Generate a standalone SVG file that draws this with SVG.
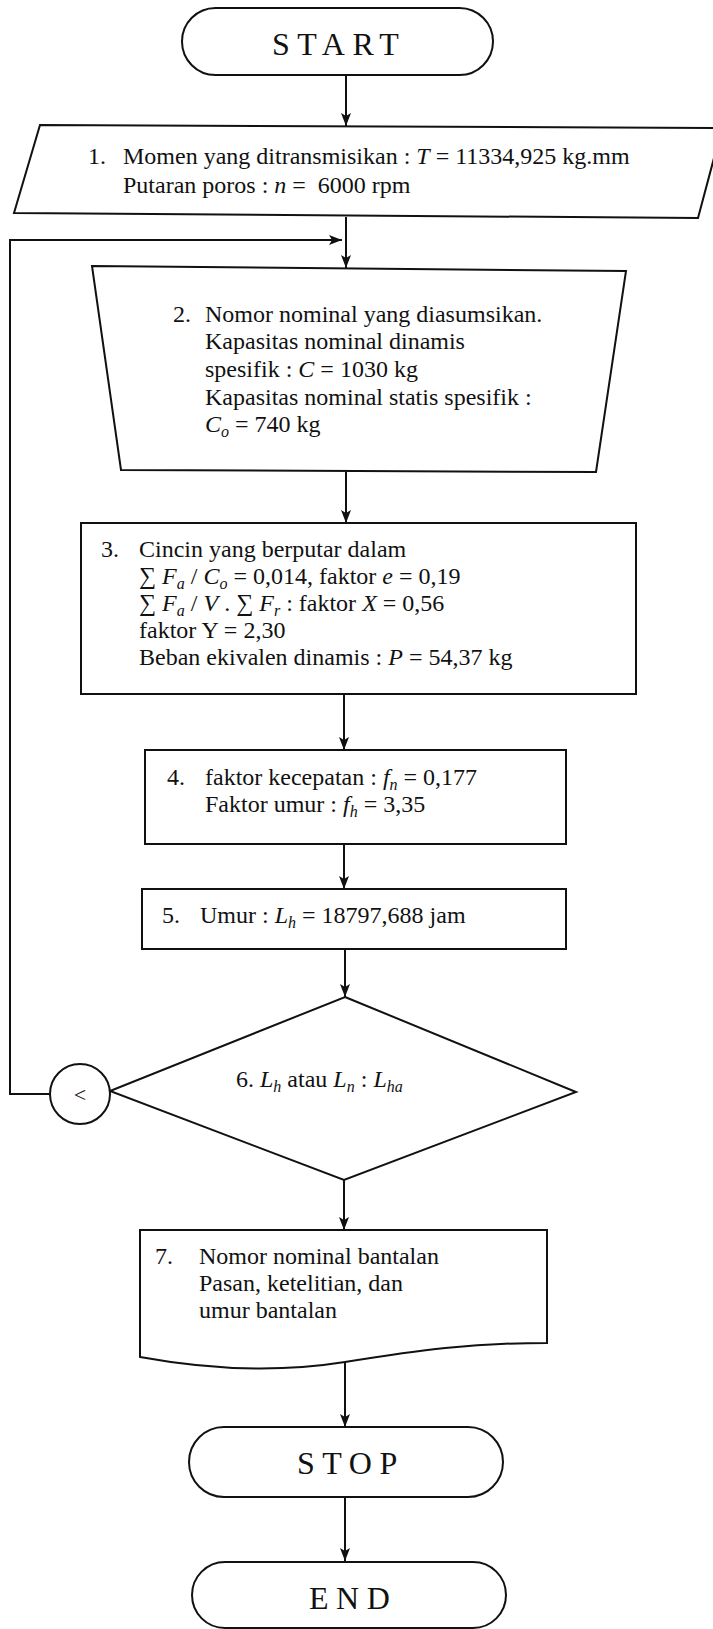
<svg xmlns="http://www.w3.org/2000/svg" width="713" height="1629" viewBox="0 0 713 1629">
<defs>
<marker id="arr" markerUnits="userSpaceOnUse" markerWidth="14" markerHeight="10" refX="13" refY="5" orient="auto">
<path d="M0,0 L13,5 L0,10 L3,5 Z" fill="#111"/>
</marker>
<style>
.s{fill:#fff;stroke:#111;stroke-width:2}
.c{fill:none;stroke:#111;stroke-width:2}
text{font-family:"Liberation Serif","Times New Roman",serif;font-size:24px;fill:#111}
.t{font-size:32px;letter-spacing:7.5px}
.i{font-style:italic}
.sub{font-size:16px;font-style:italic}
</style>
</defs>
<rect width="713" height="1629" fill="#fff"/>

<g id="connectors">
<line class="c" x1="346" y1="75" x2="346" y2="126" marker-end="url(#arr)"/>
<line class="c" x1="346" y1="217" x2="346" y2="268" marker-end="url(#arr)"/>
<line class="c" x1="346" y1="472" x2="346" y2="523" marker-end="url(#arr)"/>
<line class="c" x1="344" y1="694" x2="344" y2="750" marker-end="url(#arr)"/>
<line class="c" x1="344" y1="844" x2="344" y2="889" marker-end="url(#arr)"/>
<line class="c" x1="345" y1="949" x2="345" y2="997" marker-end="url(#arr)"/>
<line class="c" x1="344" y1="1180" x2="344" y2="1230" marker-end="url(#arr)"/>
<line class="c" x1="345" y1="1362" x2="345" y2="1427" marker-end="url(#arr)"/>
<line class="c" x1="345" y1="1497" x2="345" y2="1561" marker-end="url(#arr)"/>
<polyline class="c" points="50,1094 10,1094 10,240 342,240" marker-end="url(#arr)"/>
</g>

<g id="start">
<rect class="s" x="182" y="8" width="311" height="67" rx="33.5"/>
<text class="t" x="272" y="55">START</text>
</g>

<g id="input1">
<polygon class="s" points="40,125 722,128 698,218 14,213"/>
<text x="88" y="164">1.</text>
<text x="123" y="164">Momen yang ditransmisikan : <tspan class="i">T</tspan> = 11334,925 kg.mm</text>
<text x="123" y="193">Putaran poros : <tspan class="i">n</tspan> =&#160; 6000 rpm</text>
</g>

<g id="step2">
<polygon class="s" points="92,266 626,271 596,472 121,470"/>
<text x="173" y="322">2.</text>
<text x="205" y="322">Nomor nominal yang diasumsikan.</text>
<text x="205" y="349">Kapasitas nominal dinamis</text>
<text x="205" y="377">spesifik : <tspan class="i">C</tspan> = 1030 kg</text>
<text x="205" y="405">Kapasitas nominal statis spesifik :</text>
<text x="205" y="432"><tspan class="i">C</tspan><tspan class="sub" dy="5">o</tspan><tspan dy="-5"> = 740 kg</tspan></text>
</g>

<g id="step3">
<rect class="s" x="81" y="523" width="555" height="171"/>
<text x="101" y="557">3.</text>
<text x="139" y="557">Cincin yang berputar dalam</text>
<text x="139" y="584">∑ <tspan class="i">F</tspan><tspan class="sub" dy="5">a</tspan><tspan dy="-5"> / </tspan><tspan class="i">C</tspan><tspan class="sub" dy="5">o</tspan><tspan dy="-5"> = 0,014, faktor </tspan><tspan class="i">e</tspan> = 0,19</text>
<text x="139" y="611">∑ <tspan class="i">F</tspan><tspan class="sub" dy="5">a</tspan><tspan dy="-5"> / </tspan><tspan class="i">V</tspan> . ∑ <tspan class="i">F</tspan><tspan class="sub" dy="5">r</tspan><tspan dy="-5"> : faktor </tspan><tspan class="i">X</tspan> = 0,56</text>
<text x="139" y="638">faktor Y = 2,30</text>
<text x="139" y="665">Beban ekivalen dinamis : <tspan class="i">P</tspan> = 54,37 kg</text>
</g>

<g id="step4">
<rect class="s" x="145" y="750" width="421" height="94"/>
<text x="167" y="785">4.</text>
<text x="205" y="785">faktor kecepatan : <tspan class="i">f</tspan><tspan class="sub" dy="5">n</tspan><tspan dy="-5"> = 0,177</tspan></text>
<text x="205" y="812">Faktor umur : <tspan class="i">f</tspan><tspan class="sub" dy="5">h</tspan><tspan dy="-5"> = 3,35</tspan></text>
</g>

<g id="step5">
<rect class="s" x="142" y="889" width="424" height="60"/>
<text x="162" y="923">5.</text>
<text x="200" y="923">Umur : <tspan class="i">L</tspan><tspan class="sub" dy="5">h</tspan><tspan dy="-5"> = 18797,688 jam</tspan></text>
</g>

<g id="decision6">
<polygon class="s" points="345,997 576,1092 344,1180 110,1091"/>
<text x="236" y="1087">6. <tspan class="i">L</tspan><tspan class="sub" dy="5">h</tspan><tspan dy="-5"> atau </tspan><tspan class="i">L</tspan><tspan class="sub" dy="5">n</tspan><tspan dy="-5"> : </tspan><tspan class="i">L</tspan><tspan class="sub" dy="5">ha</tspan></text>
</g>

<g id="connector-less">
<circle class="s" cx="80" cy="1094" r="30"/>
<text x="80" y="1102" text-anchor="middle" style="font-size:22px">&lt;</text>
</g>

<g id="step7">
<path class="s" d="M140,1230 H547 V1343 C470,1343 420,1350 345,1362 C270,1374 200,1368 140,1357 Z"/>
<text x="155" y="1264">7.</text>
<text x="199" y="1264">Nomor nominal bantalan</text>
<text x="199" y="1291">Pasan, ketelitian, dan</text>
<text x="199" y="1318">umur bantalan</text>
</g>

<g id="stop">
<rect class="s" x="189" y="1427" width="314" height="70" rx="35"/>
<text class="t" x="297" y="1474">STOP</text>
</g>

<g id="end">
<rect class="s" x="192" y="1562" width="314" height="66" rx="33"/>
<text class="t" x="309" y="1609">END</text>
</g>
</svg>
